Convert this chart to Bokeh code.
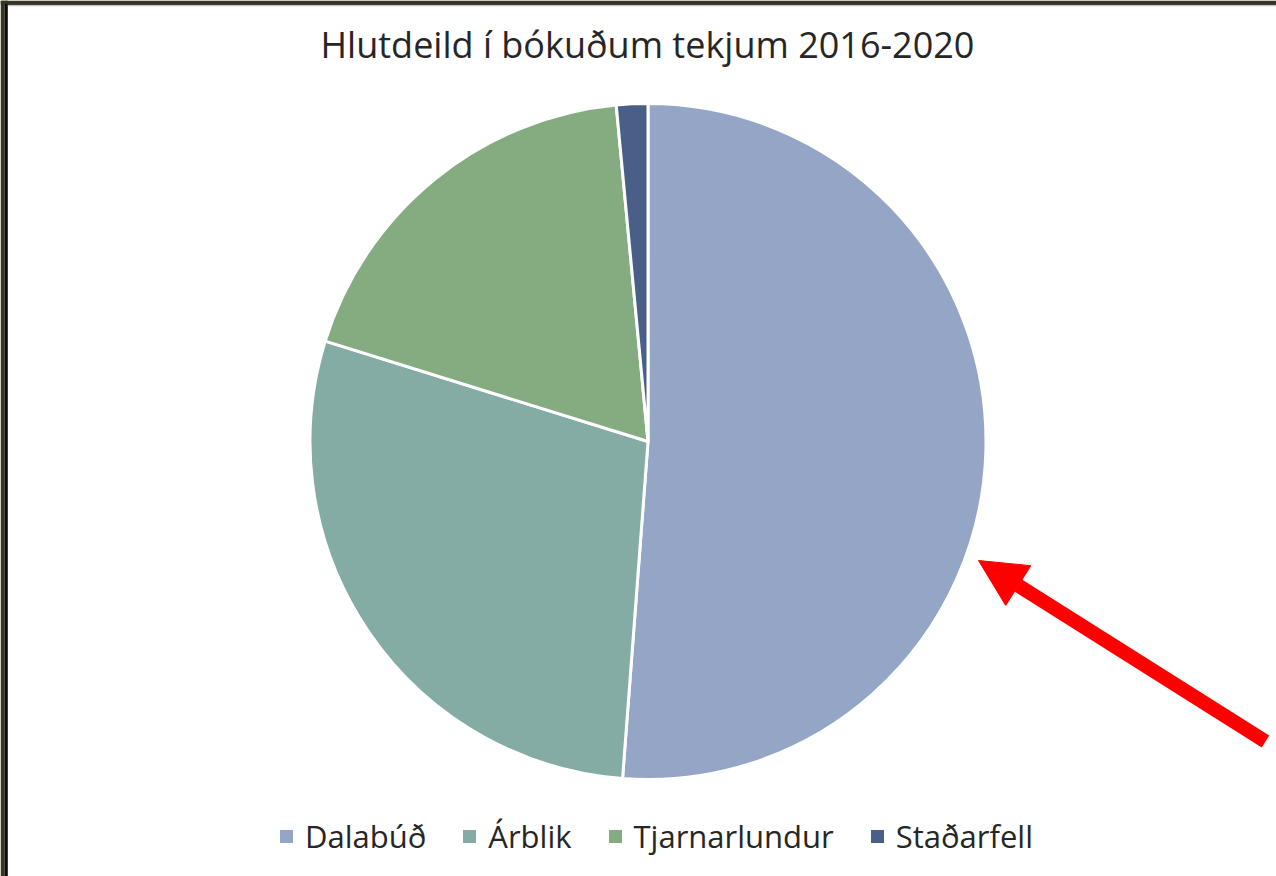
import math
from bokeh.plotting import figure
from bokeh.models import Range1d, ColumnDataSource, Legend, LegendItem, Label, Arrow, NormalHead, BoxAnnotation
from bokeh.embed import file_html
from bokeh.resources import INLINE

# ---- data ----
categories = ["Dalabúð", "Árblik", "Tjarnarlundur", "Staðarfell"]
shares = [51.2, 28.6, 18.7, 1.5]
colors = ["#95A5C6", "#84ABA4", "#84AC80", "#4A5F87"]
title_text = "Hlutdeild í bókuðum tekjum 2016-2020"

# ---- layout ----
W, H = 1276, 876
FONT = "Open Sans"
cx, cy, R = 647.5, 435, 338

total = sum(shares)
starts, ends = [], []
acc = 0.0
for v in shares:
    a0 = math.pi / 2 - 2 * math.pi * acc / total
    acc += v
    a1 = math.pi / 2 - 2 * math.pi * acc / total
    starts.append(a1)
    ends.append(a0)

src = ColumnDataSource(dict(x=[cx] * len(shares), y=[cy] * len(shares),
                            start=starts, end=ends, color=colors, label=categories))

p = figure(width=W, height=H, output_backend="svg", toolbar_location=None,
           x_range=Range1d(0, W), y_range=Range1d(0, H), min_border=0,
           border_fill_color="white", background_fill_color="white", outline_line_color=None)
p.axis.visible = False
p.grid.visible = False

# dark frame along the left and top edges
p.add_layout(BoxAnnotation(left=0, right=4.3, fill_color="#38351f", fill_alpha=1, line_color=None))
p.add_layout(BoxAnnotation(left=4.3, right=7.3, fill_color="#0c0c0c", fill_alpha=1, line_color=None))
p.add_layout(BoxAnnotation(bottom=H - 3.7, top=H, fill_color="#38351f", fill_alpha=1, line_color=None))
p.add_layout(BoxAnnotation(left=4.3, bottom=H - 4.7, top=H - 3.7, fill_color="#0c0c0c", fill_alpha=1, line_color=None))
p.add_layout(BoxAnnotation(left=7.3, bottom=H - 5.7, top=H - 4.7, fill_color="#c4c4c4", fill_alpha=1, line_color=None))

r = p.wedge(x="x", y="y", radius=R, start_angle="start", end_angle="end",
            fill_color="color", line_color="white", line_width=3, source=src)

items = [LegendItem(label=categories[i], renderers=[r], index=i) for i in range(len(categories))]
legend = Legend(items=items, orientation="horizontal", location=(276, 19),
                glyph_width=20, glyph_height=20, label_standoff=9, spacing=33,
                label_text_font=FONT, label_text_font_size="31px", label_text_color="#262626",
                padding=0, margin=0, border_line_alpha=0, background_fill_alpha=0)
p.add_layout(legend, "center")

p.add_layout(Label(x=647, y=832, text=title_text, text_font=FONT, text_font_size="36px",
                   text_color="#262626", text_align="center", text_baseline="alphabetic"))

arrow_tail = (1265, 135)
arrow_tip = (978, 316)
p.add_layout(Arrow(x_start=arrow_tail[0], y_start=arrow_tail[1], x_end=arrow_tip[0], y_end=arrow_tip[1],
                   line_color="#FF0000", line_width=14,
                   end=NormalHead(size=47, fill_color="#FF0000", line_color="#FF0000", line_width=1)))

open("out.html", "w").write(file_html(p, INLINE))
